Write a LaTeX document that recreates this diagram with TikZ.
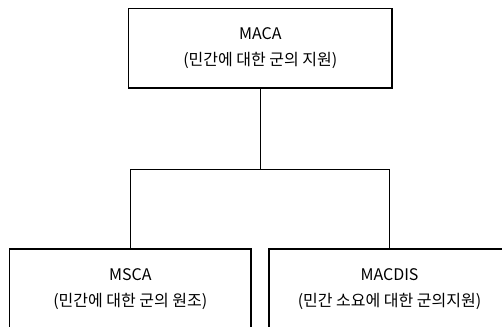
\documentclass[tikz,border=0pt]{standalone}
\usepackage{fontspec}
\setmainfont{Noto Sans CJK KR}
\begin{document}
\begin{tikzpicture}[
    x=0.75pt, y=-0.75pt,
    orgbox/.style={rectangle, draw=black, line width=1pt, fill=white,
                   minimum width=197.5pt, minimum height=59.8pt, align=center,
                   font=\fontsize{12}{19}\selectfont, inner sep=0pt},
    subbox/.style={orgbox, minimum width=180.8pt, minimum height=60pt},
    link/.style={draw=black, line width=1pt},
  ]
    \useasboundingbox (0,0) rectangle (502,327);
    \clip (0,0) rectangle (502,327);

    % Top: civil support
    \node[orgbox] (MACA) at (260.3,48.2) {MACA\\(민간에 대한 군의 지원)};

    % Bottom: two branches
    \node[subbox] (MSCA) at (130.3,289) {MSCA\\(민간에 대한 군의 원조)};
    \node[subbox] (MACDIS) at (389.5,289) {MACDIS\\(민간 소요에 대한 군의지원)};

    % Tree connectors
    \coordinate (bus) at (260.3,169.5);
    \draw[link] (MACA.south) -- (bus);
    \draw[link] (MSCA.north) |- (bus) -| (MACDIS.north);
  \end{tikzpicture}
\end{document}
